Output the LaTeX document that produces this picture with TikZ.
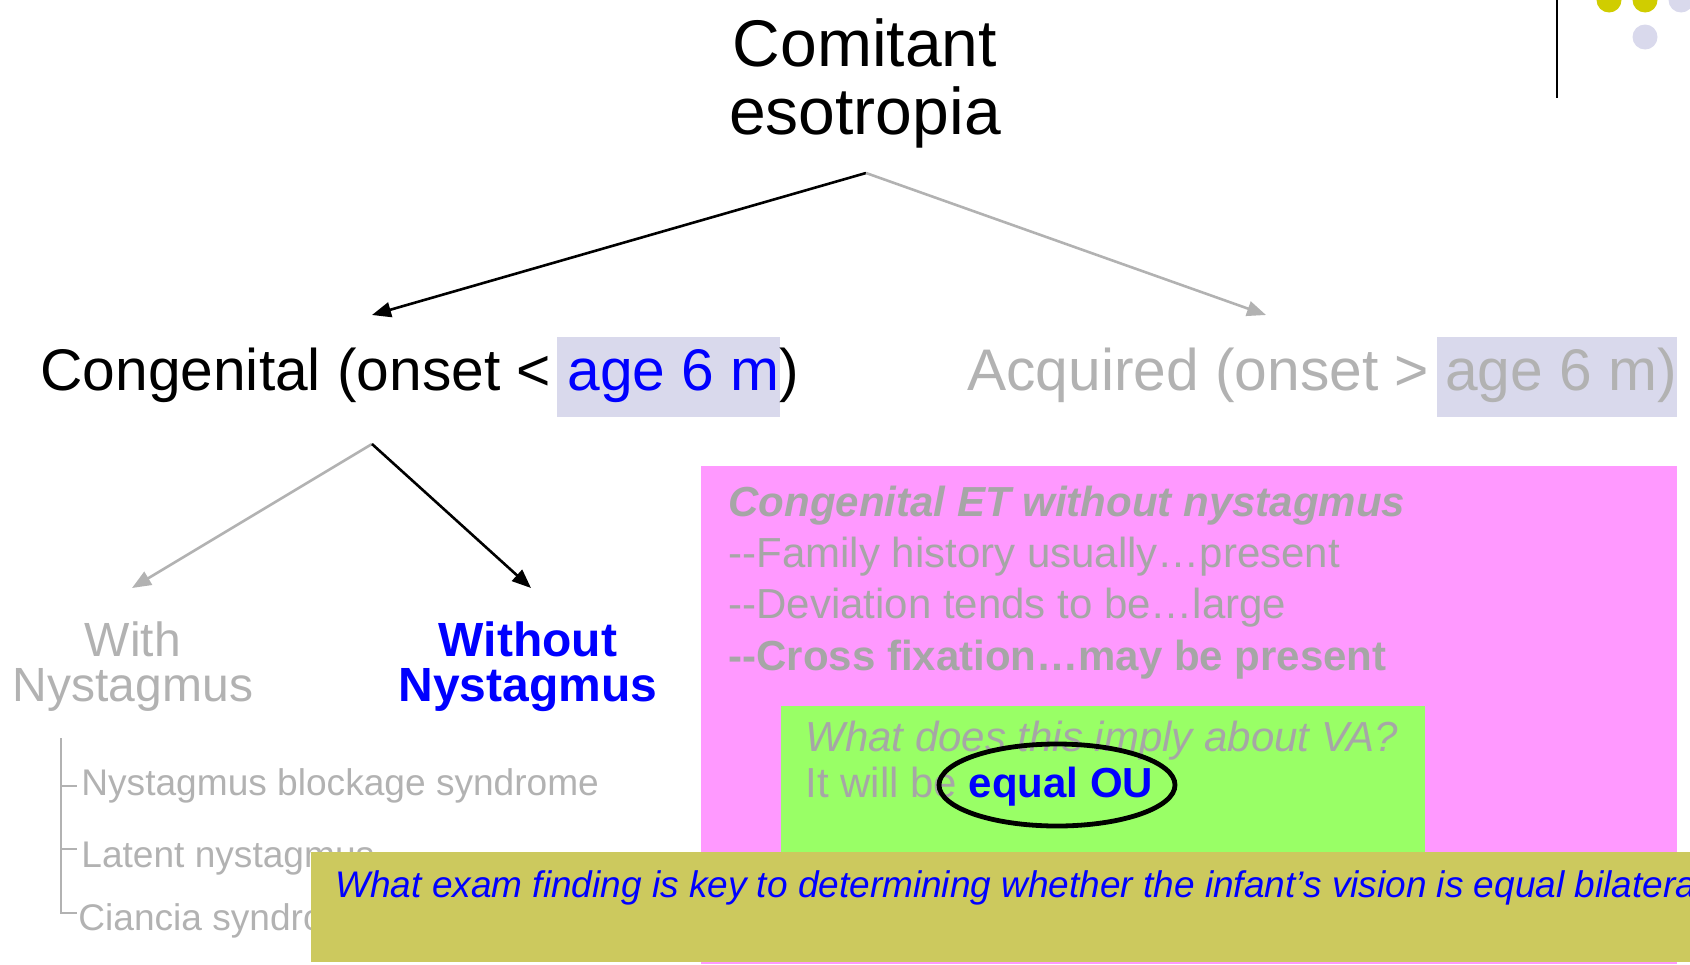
\documentclass[tikz,border=0pt]{standalone}
\usepackage{fontspec}
\setmainfont{Liberation Sans}
\usetikzlibrary{arrows.meta,shapes.geometric}
\definecolor{hilite}{RGB}{217,217,236}
\definecolor{dimgray}{RGB}{178,178,178}
\definecolor{boxgray}{RGB}{166,166,166}
\definecolor{pinkbox}{RGB}{255,153,255}
\definecolor{greenbox}{RGB}{153,255,102}
\definecolor{olivebox}{RGB}{204,201,94}
\definecolor{dotyellow}{RGB}{208,205,0}
\definecolor{pureblue}{RGB}{0,0,255}
\tikzstyle{txt}=[inner sep=0pt,anchor=base west]
\tikzstyle{link}=[draw,line width=1.3pt,-{Triangle[length=9.5pt,width=7.5pt]}]
\tikzstyle{faded link}=[link,dimgray]
\tikzstyle{branch}=[inner sep=0pt,align=center,font=\fontsize{24}{22.5}\selectfont]
\tikzstyle{note}=[txt,font=\fontsize{21}{25}\selectfont]

\begin{document}
\begin{tikzpicture}[x=0.5pt,y=-0.5pt]
    \useasboundingbox (0,0) rectangle (1690,964);
    \clip (0,0) rectangle (1690,964);

    % Title and the two onset groups
    \node[inner sep=0pt,align=center,font=\fontsize{33}{34}\selectfont] (title) at (865,83) {Comitant\\esotropia};
    \fill[hilite] (557,337) rectangle (780,417);
    \fill[hilite] (1437,337) rectangle (1677,417);
    \node[txt,font=\fontsize{29.35}{35}\selectfont] (cong) at (40,390) {Congenital (onset < \textcolor{pureblue}{age 6 m})};
    \node[txt,font=\fontsize{29.35}{35}\selectfont,dimgray] (acq) at (967,390) {Acquired (onset > age 6 m)};

    \coordinate (root) at (866,173);
    \coordinate (congtip) at (372,315);
    \coordinate (acqtip) at (1266,315);
    \path[link] (root) -- (congtip);
    \path[faded link] (root) -- (acqtip);

    % Nystagmus split under the congenital group
    \node[branch,dimgray] (with) at (133,667) {With\\Nystagmus};
    \node[branch,pureblue,font=\fontsize{24}{22.5}\selectfont\bfseries] (without) at (528,667) {Without\\Nystagmus};

    \coordinate (fork) at (372,444);
    \coordinate (withtip) at (132,588);
    \coordinate (withouttip) at (531,588);
    \path[faded link] (fork) -- (withtip);
    \path[link] (fork) -- (withouttip);

    % List of nystagmus syndromes
    \draw[dimgray,line width=1pt] (61,738) -- (61,913) -- (77,913);
    \foreach \ty in {786,849}
        \draw[dimgray,line width=1pt] (61,\ty) -- (77,\ty);
    \foreach \base/\xx/\name/\txt in {795/81/nbs/Nystagmus blockage syndrome, 867/81/lat/Latent nystagmus, 930/78/cia/Ciancia syndrome}
        \node[txt,dimgray,font=\fontsize{18.55}{22}\selectfont] (\name) at (\xx,\base) {\txt};

    % Notes box
    \fill[pinkbox] (701,466) rectangle (1677,964);
    \foreach \base/\name/\txt in {516/n1/{\bfseries\itshape Congenital ET without nystagmus}, 567/n2/{-{}-Family history usually…present}, 618/n3/{-{}-Deviation tends to be…large}, 670/n4/{\bfseries -{}-Cross fixation…may be present}}
        \node[note,boxgray] (\name) at (728,\base) {\txt};

    \fill[greenbox] (781,706) rectangle (1425,900);
    \node[note,boxgray] (q1) at (805,751) {\itshape What does this imply about VA?};
    \node[note,boxgray] (q2) at (805,797) {It will be \textcolor{pureblue}{\bfseries equal OU}};
    \node[ellipse,draw,line width=2.4pt,minimum width=118pt,minimum height=41pt,inner sep=0pt] (ring) at (1057,785) {};

    % Question banner along the bottom
    \fill[olivebox] (311,852) rectangle (1700,962);
    \node[txt,pureblue,font=\fontsize{18.5}{22}\selectfont\itshape] (exam) at (335,897) {What exam finding is key to determining whether the infant’s vision is equal bilatera};

    % Corner decoration
    \draw[line width=1pt] (1557,0) -- (1557,98);
    \foreach \pos/\col in {{(1609,0)/dotyellow}, {(1645,0)/dotyellow}, {(1681,0)/hilite}, {(1645,37)/hilite}}
        \fill[\col] \pos circle (6.25pt);
\end{tikzpicture}
\end{document}
